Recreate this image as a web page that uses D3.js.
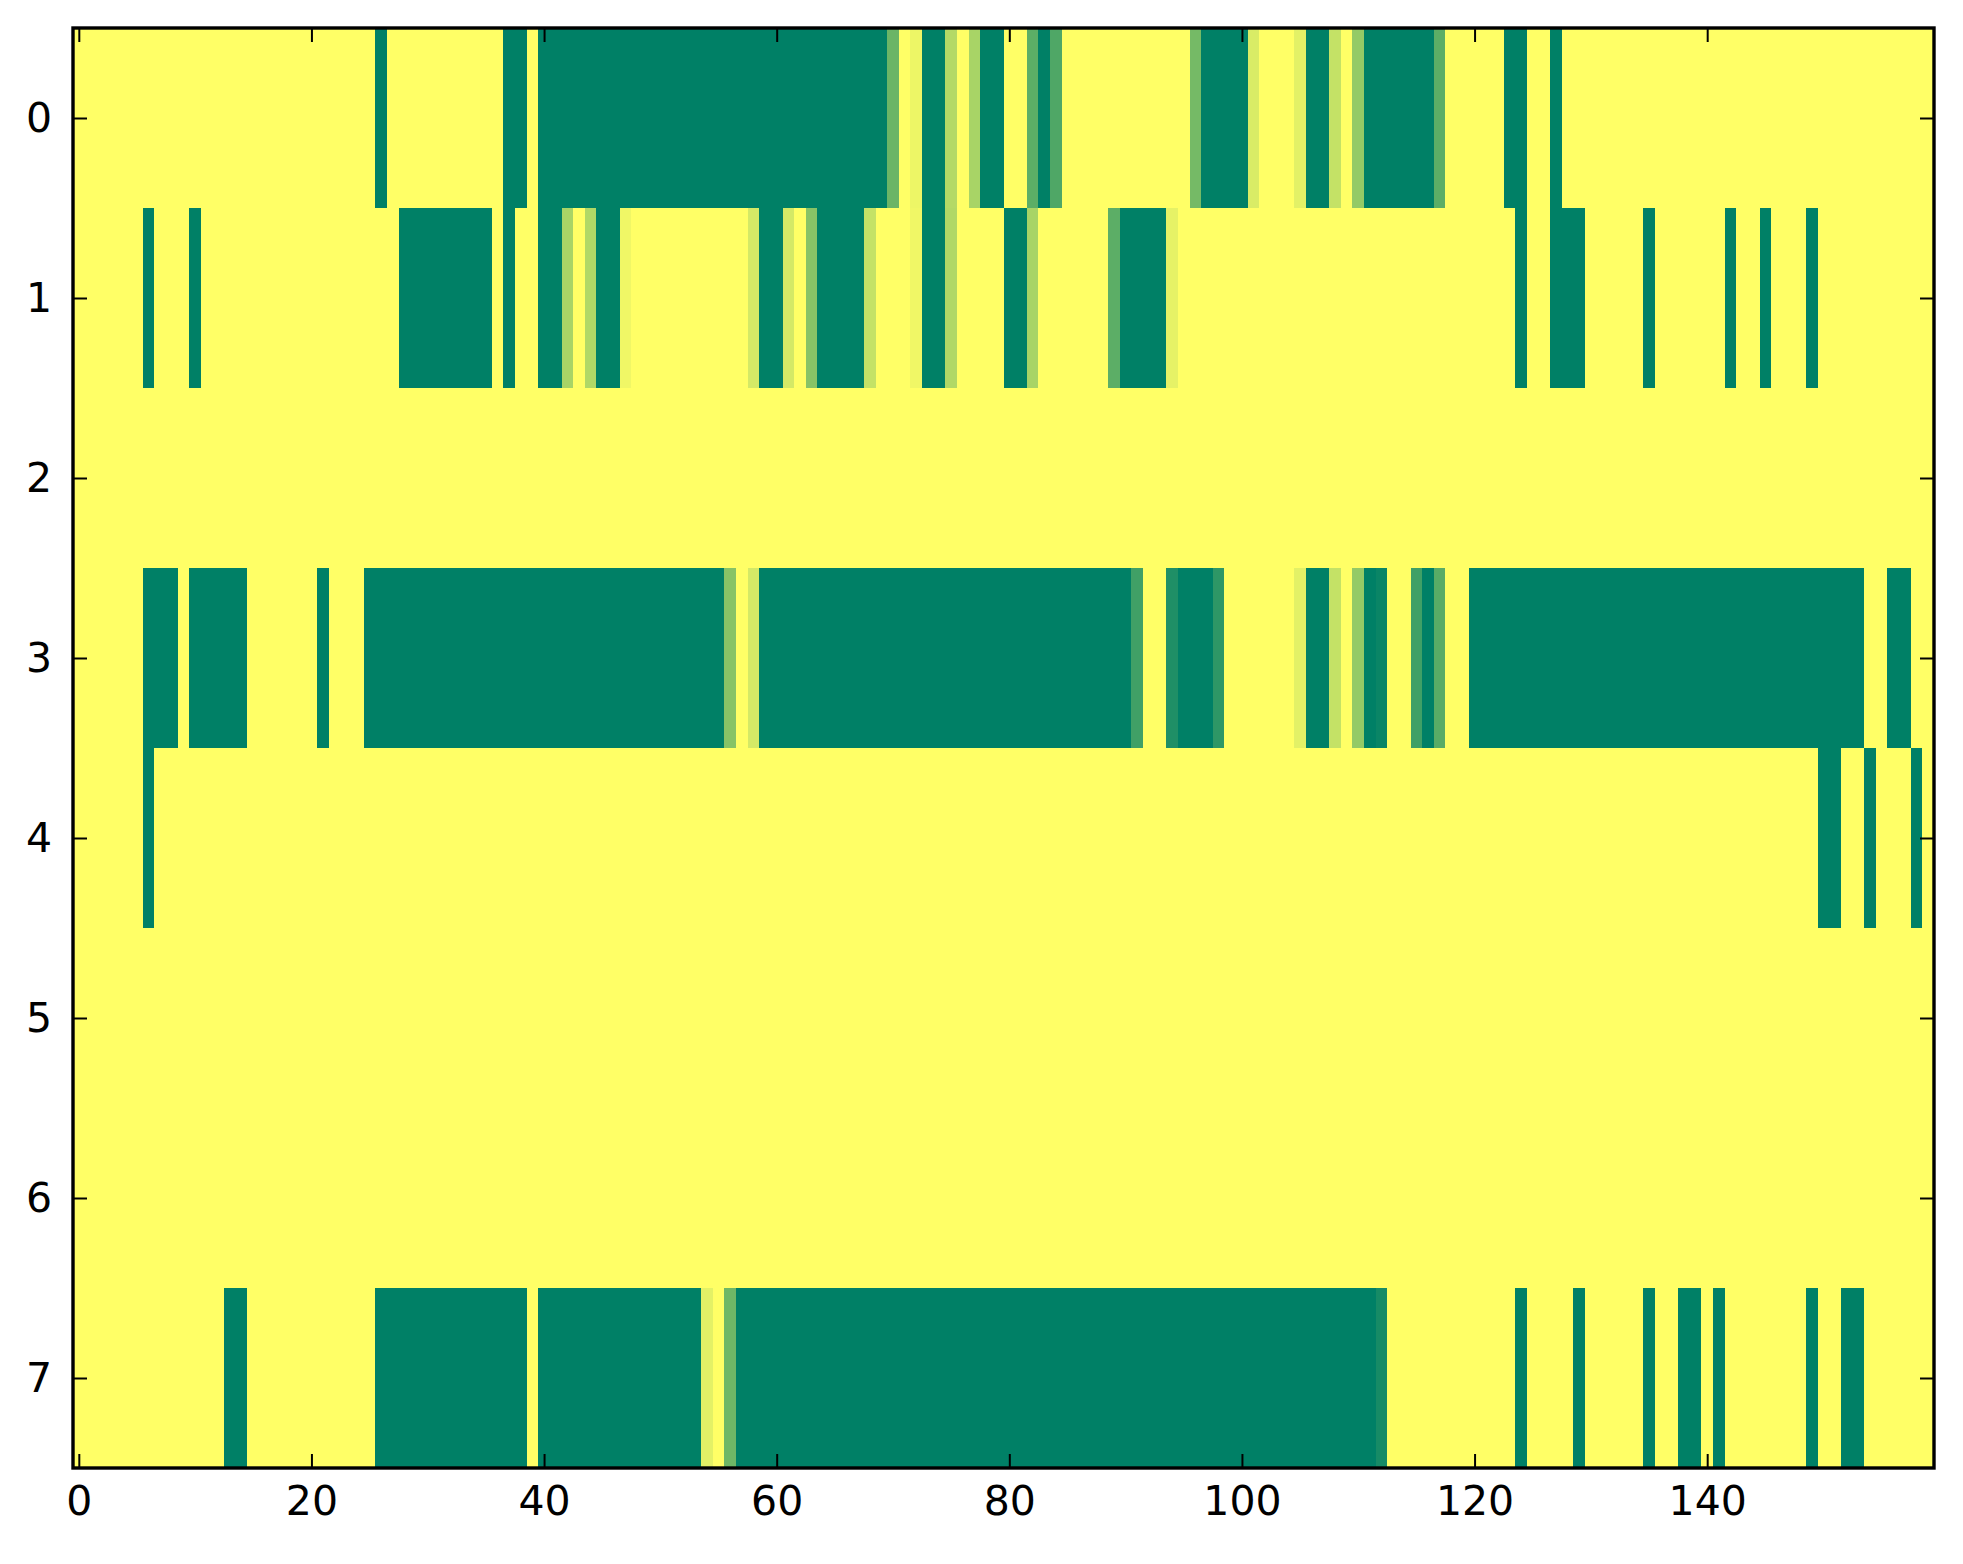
<!DOCTYPE html>
<html>
<head>
<meta charset="utf-8">
<script src="https://cdn.jsdelivr.net/npm/d3@7"></script>
<style>
  body { margin: 0; background: #fff; }
  svg { display: block; }
</style>
</head>
<body>
<svg id="heat"></svg>
<script>
// grid size and tick labels
const nCols = 160;
const rowLabels = [0, 1, 2, 3, 4, 5, 6, 7];
const xTicks = [0, 20, 40, 60, 80, 100, 120, 140];

// runs of non-zero cells per row: [firstCol, lastCol, value]
const row0 = [[26,26,1],[37,38,1],[40,69,1],[70,70,0.58],[72,72,0.07],[73,74,1],[75,75,0.30],
  [77,77,0.34],[78,79,1],[82,82,0.64],[83,83,1],[84,84,0.69],[96,96,0.54],[97,100,1],
  [101,101,0.15],[105,105,0.11],[106,107,1],[108,108,0.23],[110,110,0.42],[111,116,1],
  [117,117,0.64],[123,124,1],[127,127,1]];
const row1 = [[6,6,1],[10,10,1],[28,35,1],[37,37,1],[40,41,1],[42,42,0.34],[44,44,0.31],
  [45,46,1],[47,47,0.06],[58,58,0.17],[59,60,1],[61,61,0.17],[63,63,0.47],[64,67,1],
  [68,68,0.23],[72,72,0.06],[73,74,1],[75,75,0.31],[80,81,1],[82,82,0.34],[89,89,0.64],
  [90,93,1],[94,94,0.10],[124,124,1],[127,129,1],[135,135,1],[142,142,1],[145,145,1],[149,149,1]];
const row2 = [];
const row3 = [[6,8,1],[10,14,1],[21,21,1],[25,55,1],[56,56,0.47],[58,58,0.17],[59,90,1],
  [91,91,0.75],[94,94,0.88],[95,97,1],[98,98,0.82],[105,105,0.11],[106,107,1],[108,108,0.23],
  [110,110,0.42],[111,111,1],[112,112,0.96],[115,115,0.75],[116,116,1],[117,117,0.65],
  [120,153,1],[156,157,1]];
const row4 = [[6,6,1],[150,151,1],[154,154,1],[158,158,1]];
const row5 = [];
const row6 = [];
const row7 = [[13,14,1],[26,38,1],[40,53,1],[54,54,0.11],[56,56,0.57],[57,111,1],[112,112,0.91],
  [124,124,1],[129,129,1],[135,135,1],[138,139,1],[141,141,1],[149,149,1],[152,153,1]];

const rows = [row0, row1, row2, row3, row4, row5, row6, row7];

drawHeat();

function drawHeat(){

  const width = 1963;
  const height = 1564;
  const margin = ({top: 28, right: 29, bottom: 96, left: 73});
  const fontSize = 41;
  const tickLen = 14;

  // expand runs into cells
  let cells = [];
  rows.forEach((runs, r) => {
    let vals = new Array(nCols).fill(0);
    runs.forEach(([a, b, v]) => { for (let c = a; c <= b; c++) vals[c] = v; });
    vals.forEach((v, c) => cells.push({row: r, col: c, value: v}));
  });

  const svg = d3.select('#heat')
                .attr('width', width)
                .attr('height', height);

  let xScale = d3.scaleLinear()
                  .domain([-0.5, nCols - 0.5])
                  .range([margin.left, width - margin.right]);

  let yScale = d3.scaleLinear()
                  .domain([-0.5, rowLabels.length - 0.5])
                  .range([margin.top, height - margin.bottom]);

  // summer_r colormap: 0 -> yellow, 1 -> green
  let color = d3.scaleLinear()
                .domain([0, 1])
                .range(['rgb(255,255,102)', 'rgb(0,128,102)'])
                .interpolate(d3.interpolateRgb);

  svg.append('g')
      .attr('shape-rendering', 'crispEdges')
    .selectAll('rect')
    .data(cells)
    .join('rect')
      .attr('x', d => xScale(d.col - 0.5))
      .attr('y', d => yScale(d.row - 0.5))
      .attr('width', xScale(0.5) - xScale(-0.5) + 0.4)
      .attr('height', yScale(0.5) - yScale(-0.5) + 0.4)
      .attr('fill', d => color(d.value));

  const x0 = margin.left, x1 = width - margin.right;
  const y0 = margin.top, y1 = height - margin.bottom;

  // bottom axis, ticks inside
  const xAxisB = svg.append('g')
      .attr('transform', `translate(0,${y1})`)
      .call(d3.axisBottom(xScale).tickValues(xTicks).tickSize(-tickLen).tickPadding(18));
  // top ticks, no labels
  const xAxisT = svg.append('g')
      .attr('transform', `translate(0,${y0})`)
      .call(d3.axisTop(xScale).tickValues(xTicks).tickSize(-tickLen).tickFormat(''));
  // left axis
  const yAxisL = svg.append('g')
      .attr('transform', `translate(${x0},0)`)
      .call(d3.axisLeft(yScale).tickValues(rowLabels).tickSize(-tickLen).tickPadding(21));
  // right ticks
  const yAxisR = svg.append('g')
      .attr('transform', `translate(${x1},0)`)
      .call(d3.axisRight(yScale).tickValues(rowLabels).tickSize(-tickLen).tickFormat(''));

  [xAxisB, xAxisT, yAxisL, yAxisR].forEach(g => {
    g.select('.domain').remove();
    g.selectAll('.tick line').attr('stroke', '#000').attr('stroke-width', 2);
    g.selectAll('.tick text')
      .attr('fill', '#000')
      .style('font-family', '"DejaVu Sans", sans-serif')
      .style('font-size', fontSize + 'px');
  });

  // frame
  svg.append('rect')
      .attr('x', x0)
      .attr('y', y0)
      .attr('width', x1 - x0)
      .attr('height', y1 - y0)
      .attr('fill', 'none')
      .attr('stroke', '#000')
      .attr('stroke-width', 3.4);
}
</script>
</body>
</html>
